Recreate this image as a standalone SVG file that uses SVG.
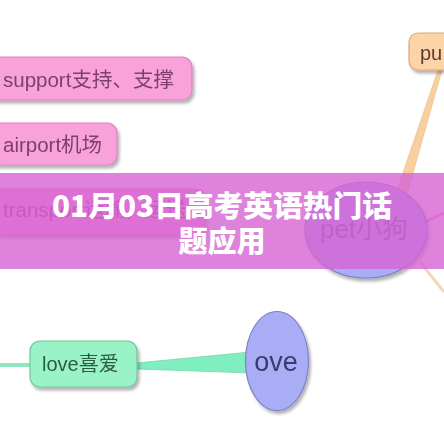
<svg xmlns="http://www.w3.org/2000/svg" width="444" height="444" viewBox="0 0 444 444">
<style>
.pink{fill:#f9a2da;stroke:#d982bf;stroke-width:1.2}
.pinkt{font-family:"Liberation Sans","Noto Sans CJK SC",sans-serif;font-size:20.5px;fill:#7b3f6f}
.orange{fill:#fdd4a8;stroke:#d9a878;stroke-width:1.2}
.mint{fill:#9af3c6;stroke:#6cc79b;stroke-width:1.2}
.ell{fill:#a9adf5;stroke:#7f80c4;stroke-width:1.2}
.title{font-family:"Noto Sans CJK SC","Liberation Sans",sans-serif;font-weight:900;font-size:29px;fill:#ffffff;text-anchor:middle}
</style>
<defs>
<filter id="sh" x="-20%" y="-30%" width="140%" height="160%">
<feDropShadow dx="2" dy="3" stdDeviation="1.5" flood-color="#000" flood-opacity="0.3"/>
</filter>
</defs>
<rect width="444" height="444" fill="#ffffff"/>
<g id="connectors">
<polygon points="438,70 442,70 404,205 392,205" fill="#f8d0a0" stroke="#e8b880" stroke-width="0.6"/>
<line x1="425" y1="222" x2="444" y2="213" stroke="#f4a0d0" stroke-width="2.5"/>
<line x1="420" y1="262" x2="444" y2="292" stroke="#f3d8b8" stroke-width="3"/>
<line x1="0" y1="365" x2="31" y2="365" stroke="#8ee6c0" stroke-width="4"/>
<polygon points="136,363 136,369 250,373 250,352" fill="#80efc0" stroke="#6ccaa0" stroke-width="0.6"/>
</g>
<g id="node-support" filter="url(#sh)">
<rect class="pink" x="-10" y="57" width="202" height="43" rx="10"/>
<text class="pinkt" x="3" y="87">support支持、支撑</text>
</g>
<g id="node-airport" filter="url(#sh)">
<rect class="pink" x="-10" y="123" width="127" height="42" rx="10"/>
<text class="pinkt" x="3" y="152">airport机场</text>
</g>
<g id="node-transport" filter="url(#sh)">
<rect class="pink" x="-10" y="189" width="215" height="46" rx="10"/>
<text class="pinkt" x="3" y="217">transport运输，运送</text>
</g>
<g id="node-pu" filter="url(#sh)">
<rect class="orange" x="409" y="33" width="50" height="37" rx="9"/>
<text x="420" y="60" style="font-family:'Liberation Sans',sans-serif;font-size:20px;fill:#5a4030">pu</text>
</g>
<g id="node-pet" filter="url(#sh)">
<ellipse class="ell" cx="366" cy="230" rx="61" ry="48"/>
<text x="364" y="238" text-anchor="middle" style="font-family:'Liberation Sans','Noto Sans CJK SC',sans-serif;font-size:26px;fill:#6a5a8a">pet小狗</text>
</g>
<g id="node-love" filter="url(#sh)">
<rect class="mint" x="30" y="341" width="107" height="46" rx="10"/>
<text x="42" y="371" style="font-family:'Liberation Sans','Noto Sans CJK SC',sans-serif;font-size:20px;fill:#2c5c44">love喜爱</text>
</g>
<g id="node-ove" filter="url(#sh)">
<ellipse class="ell" cx="277" cy="361" rx="31.5" ry="49.5"/>
<text x="276" y="371" text-anchor="middle" style="font-family:'Liberation Sans',sans-serif;font-size:27px;fill:#3a3a6e">ove</text>
</g>
<g id="banner">
<rect x="0" y="173" width="444" height="96" fill="#d663d3" opacity="0.8"/>
<text class="title" x="222" y="217" textLength="340" lengthAdjust="spacingAndGlyphs">01月03日高考英语热门话</text>
<text class="title" x="222" y="252">题应用</text>
</g>
</svg>
